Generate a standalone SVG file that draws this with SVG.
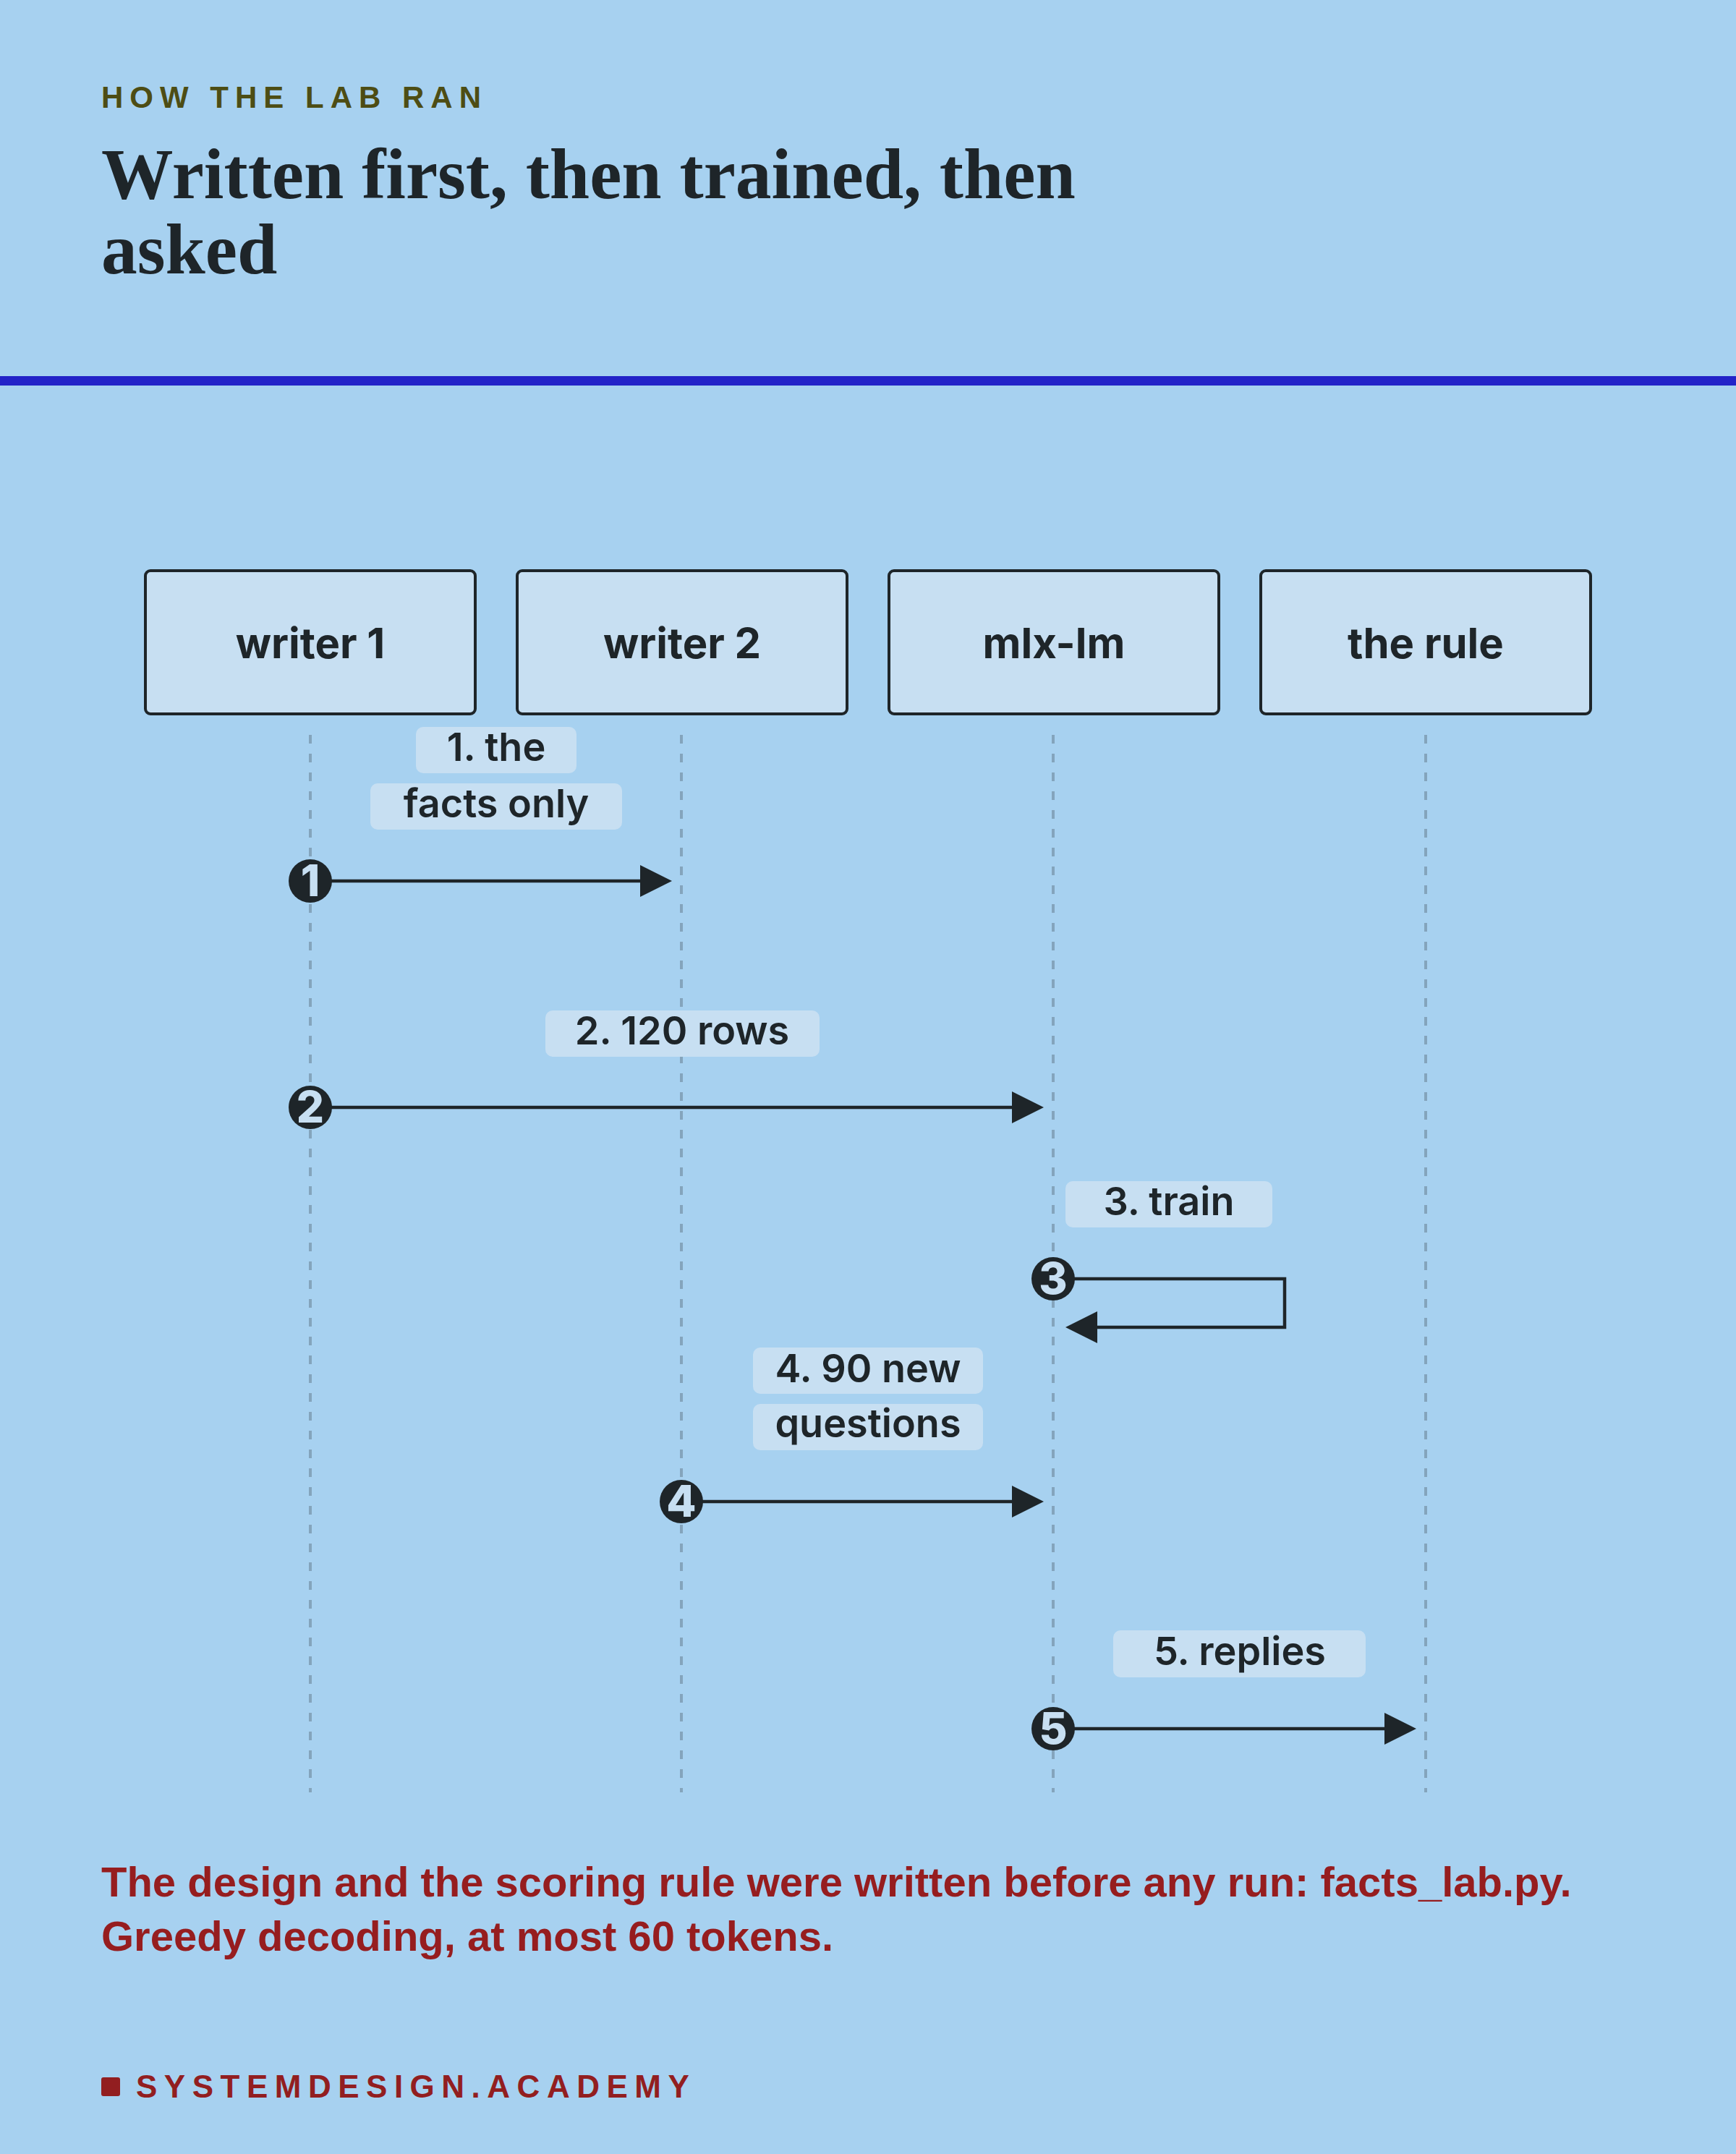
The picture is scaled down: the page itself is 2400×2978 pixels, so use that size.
<svg xmlns="http://www.w3.org/2000/svg" width="2400" height="2978" viewBox="0 0 2400 2978">
<defs>
<style>
.bg{fill:#a7d1f0}
.kicker{font-family:"Liberation Sans",Arial,sans-serif;font-weight:700;font-size:42px;letter-spacing:9px;fill:#4d4d14}
.title{font-family:"Liberation Serif","Times New Roman",serif;font-weight:700;font-size:99.5px;fill:#1e2529}
.box{fill:#c7dff2;stroke:#1e2529;stroke-width:4}
.boxlabel{font-family:Inter,"Liberation Sans",sans-serif;font-weight:700;font-size:58px;fill:#1e2529;text-anchor:middle}
.life{stroke:#84a4bc;stroke-width:4;stroke-dasharray:12 14;fill:none}
.msg{stroke:#1e2529;stroke-width:4.5;fill:none}
.lbl{fill:#c7dff2}
.lbltext{font-family:Inter,"Liberation Sans",sans-serif;font-weight:600;font-size:54px;fill:#1e2529;text-anchor:middle}
.dot{fill:#1e2529}
.num{font-family:Inter,"Liberation Sans",sans-serif;font-weight:800;font-size:60px;fill:#c7dff2;text-anchor:middle}
.note{font-family:"Liberation Sans",Arial,sans-serif;font-weight:700;font-size:58px;fill:#961d1f}
.brand{font-family:"Liberation Sans",Arial,sans-serif;font-weight:700;font-size:44px;letter-spacing:9.5px;fill:#921e20}
</style>
<marker id="arrow" markerUnits="userSpaceOnUse" markerWidth="46" markerHeight="46" refX="0" refY="22" orient="auto" viewBox="0 0 46 46">
<path d="M0,0 L44,22 L0,44 Z" fill="#1e2529"/>
</marker>
</defs>
<rect class="bg" x="0" y="0" width="2400" height="2978"/>

<g id="header">
<text class="kicker" x="140" y="149">HOW THE LAB RAN</text>
<text class="title" x="140" y="274">Written first, then trained, then</text>
<text class="title" x="140" y="378">asked</text>
<rect x="0" y="520" width="2400" height="13" fill="#2323c8"/>
</g>

<g id="node-writer1">
<rect class="box" x="201" y="789" width="456" height="198" rx="7"/>
<text class="boxlabel" x="429" y="910">writer 1</text>
<line class="life" x1="429" y1="1016" x2="429" y2="2478"/>
</g>
<g id="node-writer2">
<rect class="box" x="715" y="789" width="456" height="198" rx="7"/>
<text class="boxlabel" x="943" y="910">writer 2</text>
<line class="life" x1="942" y1="1016" x2="942" y2="2478"/>
</g>
<g id="node-mlxlm">
<rect class="box" x="1229" y="789" width="456" height="198" rx="7"/>
<text class="boxlabel" x="1457" y="910">mlx-lm</text>
<line class="life" x1="1456" y1="1016" x2="1456" y2="2478"/>
</g>
<g id="node-rule">
<rect class="box" x="1743" y="789" width="456" height="198" rx="7"/>
<text class="boxlabel" x="1971" y="910">the rule</text>
<line class="life" x1="1971" y1="1016" x2="1971" y2="2478"/>
</g>

<g id="connectors">
<g id="msg1">
<rect class="lbl" x="575" y="1005" width="222" height="64" rx="10"/>
<text class="lbltext" x="686" y="1052">1. the</text>
<rect class="lbl" x="512" y="1083" width="348" height="64" rx="10"/>
<text class="lbltext" x="686" y="1130">facts only</text>
<path class="msg" d="M429,1218 H885" marker-end="url(#arrow)"/>
<circle class="dot" cx="429" cy="1218" r="30"/>
<text class="num" x="429" y="1239">1</text>
</g>
<g id="msg2">
<rect class="lbl" x="754" y="1397" width="379" height="64" rx="10"/>
<text class="lbltext" x="943" y="1444">2. 120 rows</text>
<path class="msg" d="M429,1531 H1399" marker-end="url(#arrow)"/>
<circle class="dot" cx="429" cy="1531" r="30"/>
<text class="num" x="429" y="1552">2</text>
</g>
<g id="msg3">
<rect class="lbl" x="1473" y="1633" width="286" height="64" rx="10"/>
<text class="lbltext" x="1616" y="1680">3. train</text>
<path class="msg" d="M1456,1768 H1776 V1835 H1517" marker-end="url(#arrow)"/>
<circle class="dot" cx="1456" cy="1768" r="30"/>
<text class="num" x="1456" y="1789">3</text>
</g>
<g id="msg4">
<rect class="lbl" x="1041" y="1863" width="318" height="64" rx="10"/>
<text class="lbltext" x="1200" y="1911">4. 90 new</text>
<rect class="lbl" x="1041" y="1941" width="318" height="64" rx="10"/>
<text class="lbltext" x="1200" y="1987">questions</text>
<path class="msg" d="M942,2076 H1399" marker-end="url(#arrow)"/>
<circle class="dot" cx="942" cy="2076" r="30"/>
<text class="num" x="942" y="2097">4</text>
</g>
<g id="msg5">
<rect class="lbl" x="1539" y="2254" width="349" height="65" rx="10"/>
<text class="lbltext" x="1714" y="2302">5. replies</text>
<path class="msg" d="M1456,2390 H1914" marker-end="url(#arrow)"/>
<circle class="dot" cx="1456" cy="2390" r="30"/>
<text class="num" x="1456" y="2411">5</text>
</g>
</g>

<g id="footnote">
<text class="note" x="140" y="2622">The design and the scoring rule were written before any run: facts_lab.py.</text>
<text class="note" x="140" y="2697">Greedy decoding, at most 60 tokens.</text>
</g>

<g id="footer">
<rect x="140" y="2872" width="26" height="26" rx="3" fill="#921e20"/>
<text class="brand" x="188" y="2900">SYSTEMDESIGN.ACADEMY</text>
</g>
</svg>
